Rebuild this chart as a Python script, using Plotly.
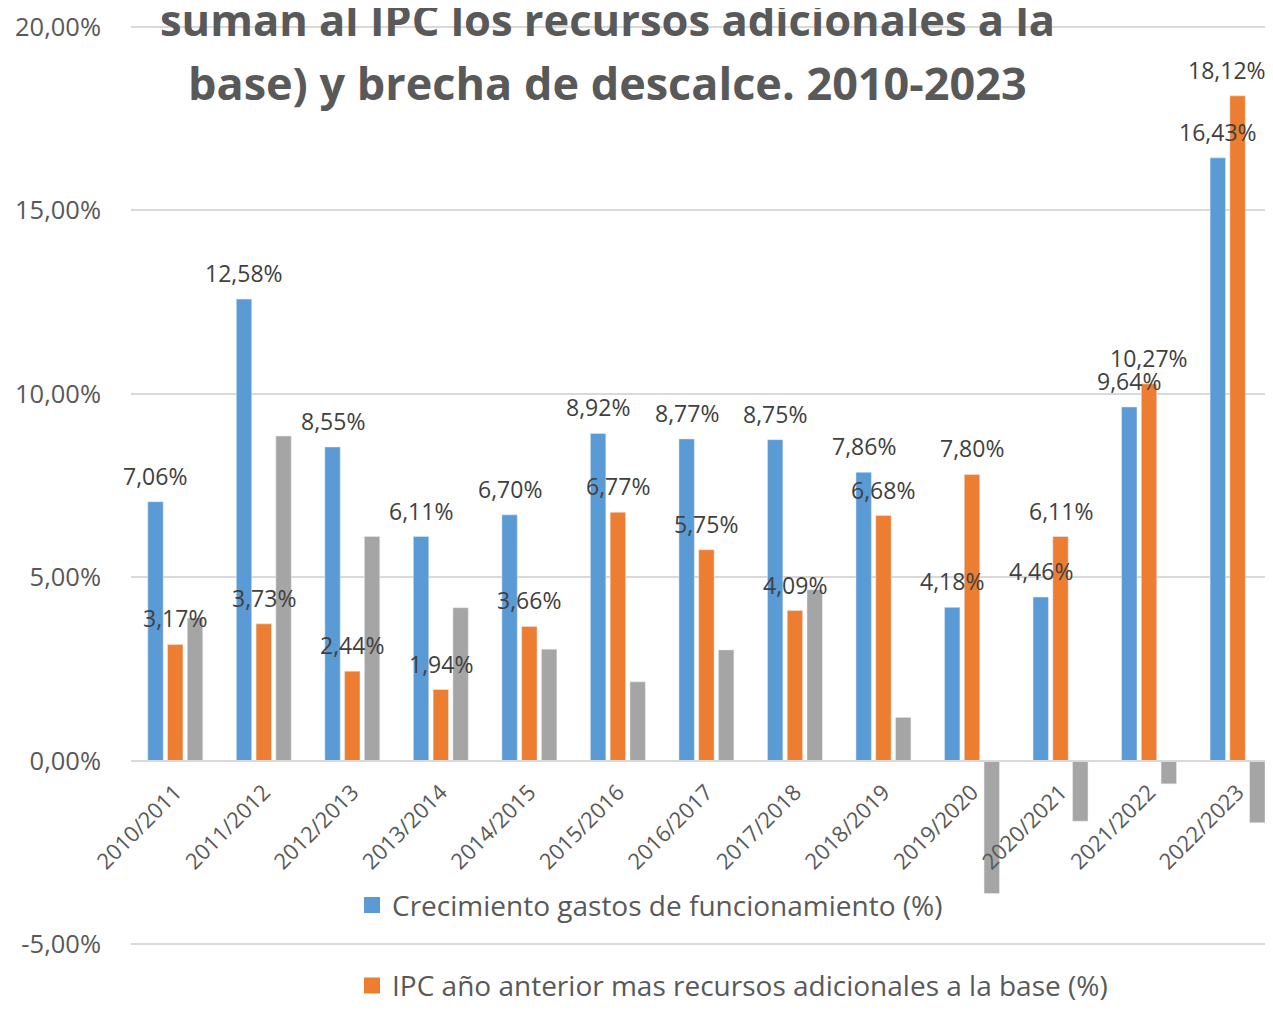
import plotly.graph_objects as go

# periods and series (in %)
periodos = ["2010/2011", "2011/2012", "2012/2013", "2013/2014", "2014/2015", "2015/2016",
            "2016/2017", "2017/2018", "2018/2019", "2019/2020", "2020/2021", "2021/2022", "2022/2023"]
crecimiento = [7.06, 12.58, 8.55, 6.11, 6.70, 8.92, 8.77, 8.75, 7.86, 4.18, 4.46, 9.64, 16.43]
ipc_recursos = [3.17, 3.73, 2.44, 1.94, 3.66, 6.77, 5.75, 4.09, 6.68, 7.80, 6.11, 10.27, 18.12]
brecha = [3.89, 8.85, 6.11, 4.17, 3.04, 2.15, 3.02, 4.66, 1.18, -3.62, -1.65, -0.63, -1.69]

y_ticks = [-5, 0, 5, 10, 15, 20]
y_ticktext = ["-5,00%", "0,00%", "5,00%", "10,00%", "15,00%", "20,00%"]

title_lines = ["suman al IPC los recursos adicionales a la",
               "base) y brecha de descalce. 2010-2023"]

BLUE = "#5b9bd5"
ORANGE = "#ed7d31"
GRAY = "#a5a5a5"
FONT = "Open Sans"
Y_RANGE = [-5.05, 20.05]


def pct(v):
    return f"{v:.2f}".replace(".", ",") + "%"


fig = go.Figure()
fig.add_trace(go.Bar(x=periodos, y=crecimiento, name="Crecimiento gastos de funcionamiento (%)",
                     marker_color=BLUE, showlegend=False))
fig.add_trace(go.Bar(x=periodos, y=ipc_recursos, name="IPC año anterior mas recursos adicionales a la base (%)",
                     marker_color=ORANGE, showlegend=False))
fig.add_trace(go.Bar(x=periodos, y=brecha, name="Brecha de descalce (%)",
                     marker_color=GRAY, showlegend=False))

# legend entries with bigger square swatches (bar legend swatches are tiny)
for name, color, grp in (("Crecimiento gastos de funcionamiento (%)", BLUE, "a"),
                         ("IPC año anterior mas recursos adicionales a la base (%)", ORANGE, "b")):
    fig.add_trace(go.Scatter(x=[None], y=[None], mode="markers", name=name, legendgroup=grp,
                             marker=dict(symbol="square", size=16, color=color)))

# data labels above blue and orange bars
for vals, shift in ((crecimiento, -19.8), (ipc_recursos, 0)):
    for i, (p, v) in enumerate(zip(periodos, vals)):
        dx = -11 if (shift == 0 and i == len(vals) - 1) else shift  # keep last label inside
        fig.add_annotation(x=p, y=v, xref="x", yref="y", text=pct(v), showarrow=False,
                           xshift=dx, yshift=8, yanchor="bottom",
                           font=dict(family=FONT, size=23, color="#404040"))

for line, ypos, size in zip(title_lines, (1.0061, 0.9377), (43.5, 45)):
    fig.add_annotation(x=0.4206, y=ypos, xref="paper", yref="paper", text=f"<b>{line}</b>",
                       showarrow=False, xanchor="center", yanchor="middle",
                       font=dict(family=FONT, size=size, color="#595959"))

fig.update_layout(
    width=1257, height=1004,
    margin=dict(l=123, r=0, t=17, b=66),
    plot_bgcolor="white", paper_bgcolor="white",
    barmode="group", bargap=0.33, bargroupgap=0.22,
    font=dict(family=FONT, color="#595959"),
    xaxis=dict(range=[-0.5, 12.31], anchor="free", position=(0 - Y_RANGE[0]) / (Y_RANGE[1] - Y_RANGE[0]),
               showgrid=False, showline=True, linecolor="#d9d9d9", linewidth=2, tickangle=-45,
               automargin=False, tickfont=dict(size=22, color="#595959"), ticks="",
               ticklabelstandoff=9),
    yaxis=dict(range=Y_RANGE, tickvals=y_ticks, ticktext=y_ticktext, showgrid=True,
               gridcolor="#d9d9d9", gridwidth=1.5, zeroline=False, ticks="", automargin=False,
               tickfont=dict(size=25.5, color="#595959"), ticklabelstandoff=29),
    # keep the whole legend box inside the figure, otherwise the page grows
    legend=dict(x=0.1949, y=0.0712, xanchor="left", yanchor="top", bgcolor="rgba(0,0,0,0)",
                font=dict(size=28, color="#595959"), tracegroupgap=41),
)

fig.write_html("out.html", config={"displayModeBar": False})
